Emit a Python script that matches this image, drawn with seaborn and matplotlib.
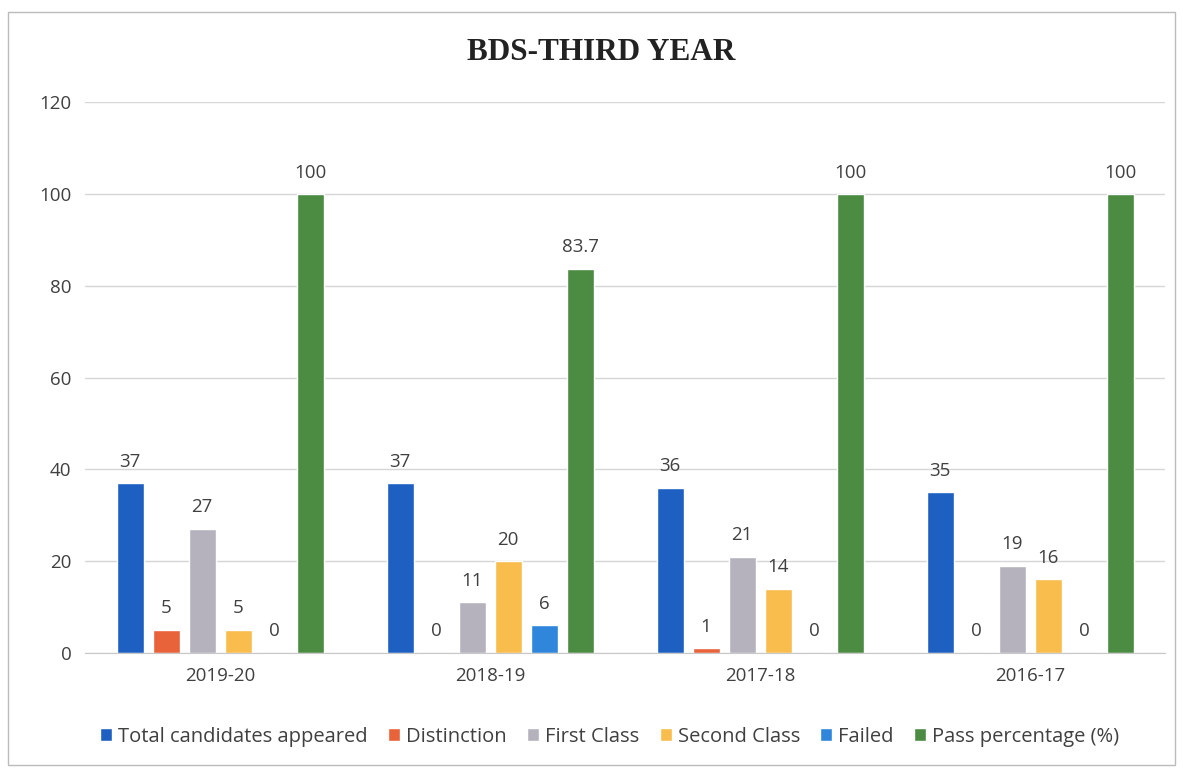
import numpy as np
import pandas as pd
import matplotlib
matplotlib.use('Agg')
from matplotlib import pyplot as plt
import seaborn as sns

years = ['2019-20', '2018-19', '2017-18', '2016-17']
total = [37, 37, 36, 35]
distinction = [5, 0, 1, 0]
first_class = [27, 11, 21, 19]
second_class = [5, 20, 14, 16]
failed = [0, 6, 0, 0]
pass_pct = [100, 83.7, 100, 100]

series = ['Total candidates appeared', 'Distinction', 'First Class',
          'Second Class', 'Failed', 'Pass percentage (%)']
values = [total, distinction, first_class, second_class, failed, pass_pct]
colors = ['#1D60C2', '#E8623A', '#B5B2BD', '#F8BD4C', '#2F86DB', '#4B8B42']

rows = []
for s, vals in zip(series, values):
    for y, v in zip(years, vals):
        rows.append({'year': y, 'series': s, 'value': v})
df = pd.DataFrame(rows)

sns.set_style("white")
plt.rcParams['font.family'] = ['Open Sans', 'DejaVu Sans']

fig = plt.figure(figsize=(11.84, 7.69), dpi=100)
ax = fig.add_axes([0.072, 0.151, 0.912, 0.716])

sns.barplot(data=df, x='year', y='value', hue='series', hue_order=series,
            palette=colors, width=0.8, gap=0.25, saturation=1, ax=ax,
            legend=True)

for c in ax.containers:
    ax.bar_label(c, labels=[f"{b.get_height():g}" for b in c], padding=9,
                 fontsize=13.5, color='#404040')

ax.set_ylim(0, 120)
ax.set_yticks(range(0, 121, 20))
ax.set_xlim(-0.5, 3.5)
ax.yaxis.grid(True, color='#D6D6D6', linewidth=1)
ax.set_axisbelow(True)
ax.set_xlabel('')
ax.set_ylabel('')
ax.tick_params(axis='both', labelsize=13.5, colors='#404040', length=0, pad=10)
for side in ['left', 'right', 'top']:
    ax.spines[side].set_visible(False)
ax.spines['bottom'].set_color('#C8C8C8')

fig.text(0.508, 0.932, 'BDS-THIRD YEAR', ha='center', va='center',
         fontsize=22.5, fontweight='bold', family='Liberation Serif', color='#222222')

h, l = ax.get_legend_handles_labels()
ax.legend_.remove()
fig.legend(h, l, loc='center', bbox_to_anchor=(0.515, 0.042), ncol=6,
           frameon=False, fontsize=14.5, handlelength=0.6, handleheight=0.6,
           handletextpad=0.3, columnspacing=1.0, labelcolor='#404040')

fig.patches.append(plt.Rectangle((0.007, 0.005), 0.985, 0.98, transform=fig.transFigure,
                                 fill=False, edgecolor='#BBBBBB', linewidth=1))

fig.savefig('out.png', dpi=100)
